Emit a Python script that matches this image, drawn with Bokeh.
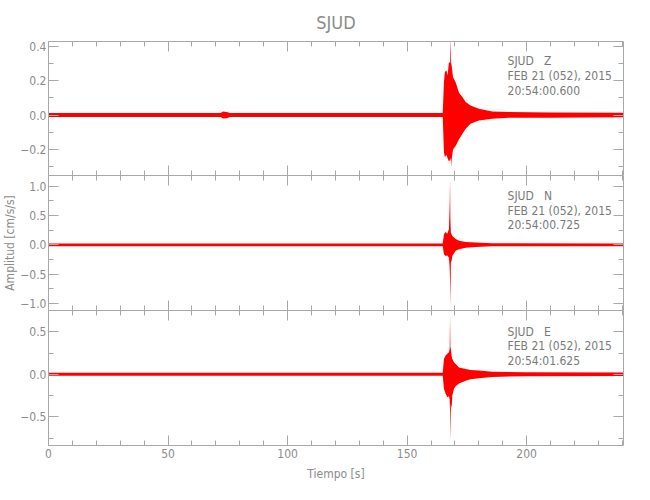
import math
from bokeh.plotting import figure
from bokeh.models import Range1d, LinearAxis, SingleIntervalTicker, Label, CustomJSTickFormatter
from bokeh.layouts import column
from bokeh.embed import file_html
from bokeh.resources import INLINE

# ---------------- data (envelopes) ----------------
station = "SJUD"
components = ["Z", "N", "E"]
date_text = "FEB 21 (052), 2015"
start_times = ["20:54:00.600", "20:54:00.725", "20:54:01.625"]

t_z = [0, 60, 72, 73, 74.5, 76, 164.9, 165.4, 165.8, 166.4, 166.9, 167.5, 168.0, 168.2, 168.4,
       168.6, 169.2, 170.3, 171.7, 173.1, 174.5, 176.5, 180.0, 185.6, 192.6, 210, 240.5]
z_upper = [0.012, 0.012, 0.012, 0.02, 0.018, 0.012, 0.012, 0.19, 0.25, 0.26, 0.23, 0.31, 0.3, 0.45, 0.3,
           0.29, 0.22, 0.19, 0.13, 0.105, 0.076, 0.056, 0.037, 0.021, 0.017, 0.015, 0.013]
z_lower = [-0.012, -0.012, -0.012, -0.02, -0.018, -0.012, -0.012, -0.216, -0.245, -0.23, -0.25, -0.27, -0.26, -0.25, -0.30,
           -0.26, -0.2, -0.18, -0.14, -0.11, -0.08, -0.05, -0.031, -0.021, -0.016, -0.015, -0.013]

t_n = [0, 164.9, 165.4, 166.1, 166.8, 167.5, 167.8, 167.95, 168.1, 168.3, 168.6, 168.9, 170.3, 171.7,
       174.5, 178.7, 185.6, 240.5]
n_upper = [0.022, 0.022, 0.18, 0.22, 0.19, 0.27, 0.69, 1.12, 0.45, 0.21, 0.18, 0.15, 0.1, 0.07,
           0.05, 0.04, 0.028, 0.024]
n_lower = [-0.022, -0.022, -0.16, -0.19, -0.18, -0.22, -0.4, -0.6, -1.04, -0.3, -0.27, -0.19, -0.1, -0.074,
           -0.05, -0.035, -0.025, -0.023]

t_e = [0, 164.9, 165.4, 166.1, 166.8, 167.5, 167.8, 167.95, 168.1, 168.3, 168.6, 168.9, 169.6, 170.3,
       171.7, 174.5, 176.5, 180, 185.6, 199.6, 240.5]
e_upper = [0.018, 0.018, 0.18, 0.22, 0.24, 0.26, 0.3, 0.70, 0.32, 0.30, 0.22, 0.18, 0.14, 0.12,
           0.08, 0.063, 0.05, 0.043, 0.03, 0.024, 0.02]
e_lower = [-0.018, -0.018, -0.17, -0.23, -0.27, -0.26, -0.3, -0.45, -0.78, -0.35, -0.4, -0.25, -0.17, -0.14,
           -0.11, -0.075, -0.06, -0.047, -0.031, -0.024, -0.02]

x_limits = (0, 240.5)
y_limits = [(-0.351, 0.427), (-1.119, 1.182), (-0.838, 0.75)]
y_intervals = [0.2, 0.5, 0.5]

# ---------------- styling ----------------
FONT = "Liberation Sans Narrow, DejaVu Sans Condensed, Liberation Sans"
TXT = "#8c8c8c"
TXT2 = "#7a7a7a"
AX = "#a8a8a8"
RED = "#ff0000"

yfmt = CustomJSTickFormatter(code="""
if (Math.abs(tick) < 1e-9) return '0.0';
return tick.toFixed(1).replace('-', '\u2212');
""")


def style_axis(ax, labels):
    ax.axis_line_color = AX
    ax.major_tick_line_color = AX
    ax.minor_tick_line_color = AX
    ax.major_tick_in = 10
    ax.major_tick_out = 0
    ax.minor_tick_in = 5
    ax.minor_tick_out = 0
    if labels:
        ax.major_label_text_font = FONT
        ax.major_label_text_font_size = "12px"
        ax.major_label_text_color = TXT
        ax.major_label_standoff = 3
    else:
        ax.major_label_text_font_size = "0px"
        ax.major_label_text_color = None
        ax.major_label_standoff = 0


traces = [(t_z, z_lower, z_upper), (t_n, n_lower, n_upper), (t_e, e_lower, e_upper)]
heights = [175, 135, 180]
borders_top = [41, 0, 0]
borders_bottom = [0, 0, 45]
label_y = [(0.311, 0.229, 0.142), (0.84, 0.573, 0.33), (0.498, 0.333, 0.156)]

figs = []
bottoms = []
for i in range(3):
    p = figure(width=643, height=heights[i], output_backend="svg", toolbar_location=None,
               x_range=Range1d(*x_limits), y_range=Range1d(*y_limits[i]),
               min_border_left=48, min_border_right=20,
               min_border_top=borders_top[i], min_border_bottom=borders_bottom[i])
    p.background_fill_color = "white"
    p.border_fill_color = "white"
    p.outline_line_color = None
    p.grid.visible = False

    bottom_ax = p.below[0]
    left_ax = p.left[0]
    bottom_ax.ticker = SingleIntervalTicker(interval=50, num_minor_ticks=5)
    left_ax.ticker = SingleIntervalTicker(interval=y_intervals[i], num_minor_ticks=2)
    left_ax.formatter = yfmt
    style_axis(left_ax, True)
    left_ax.major_label_standoff = 2
    style_axis(bottom_ax, i == 2)

    top_ax = LinearAxis(ticker=SingleIntervalTicker(interval=50, num_minor_ticks=5))
    style_axis(top_ax, False)
    p.add_layout(top_ax, "above")
    right_ax = LinearAxis(ticker=SingleIntervalTicker(interval=y_intervals[i], num_minor_ticks=2))
    style_axis(right_ax, False)
    p.add_layout(right_ax, "right")

    t, lo, hi = traces[i]
    p.varea(x=t, y1=lo, y2=hi, fill_color=RED, fill_alpha=1.0)

    texts = [station + "\u00a0\u00a0\u00a0" + components[i], date_text, start_times[i]]
    for txt, yy in zip(texts, label_y[i]):
        p.add_layout(Label(x=192, y=yy, text=txt, text_font=FONT, text_font_size="12px",
                           text_color=TXT2, text_baseline="middle", text_align="left"))
    figs.append(p)
    bottoms.append(bottom_ax)
    if i == 1:
        left_ax.axis_label = "Amplitud [cm/s/s]"
        left_ax.axis_label_text_font = FONT
        left_ax.axis_label_text_font_size = "12px"
        left_ax.axis_label_text_font_style = "normal"
        left_ax.axis_label_text_color = TXT
        left_ax.axis_label_standoff = 0

p1, p2, p3 = figs
p1.title.text = station
p1.title.align = "center"
p1.title.text_font = FONT
p1.title.text_font_size = "18px"
p1.title.text_font_style = "normal"
p1.title.text_color = TXT
p1.title.standoff = 18

xb = bottoms[2]
xb.axis_label = "Tiempo [s]"
xb.axis_label_text_font = FONT
xb.axis_label_text_font_size = "12px"
xb.axis_label_text_font_style = "normal"
xb.axis_label_text_color = TXT
xb.axis_label_standoff = 6

layout = column(p1, p2, p3, spacing=0)
open("out.html", "w").write(file_html(layout, INLINE))
